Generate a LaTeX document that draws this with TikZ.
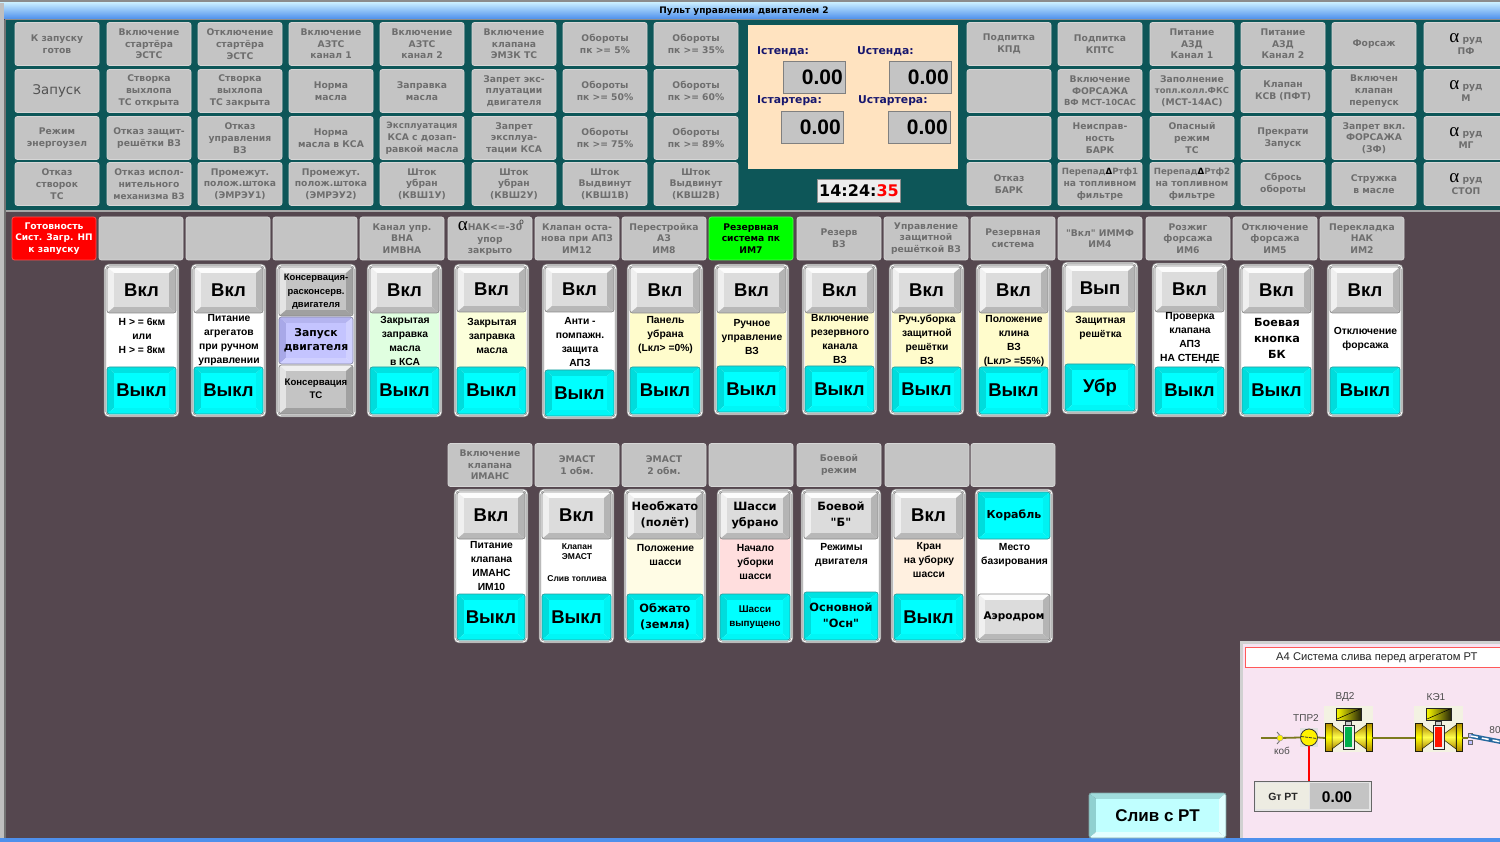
\documentclass[tikz,border=0pt]{standalone}
\usepackage{fontspec}
\setmainfont{Liberation Sans}
\newfontfamily\djf{DejaVu Sans}
\newfontfamily\serf{Liberation Serif}
\usetikzlibrary{calc}
\definecolor{bgd}{HTML}{55474F}
\definecolor{teal1}{HTML}{0D5658}
\definecolor{lampc}{HTML}{C4C4C4}
\definecolor{lampe}{HTML}{D6D6D6}
\definecolor{lampt}{HTML}{6E6E6E}
\definecolor{navyt}{HTML}{16166E}
\definecolor{peach}{HTML}{FFE3C0}
\definecolor{pinkp}{HTML}{F8E4F2}
\definecolor{olive}{HTML}{7C7A1E}
\definecolor{tbT}{HTML}{C4EAFF}
\definecolor{tbB}{HTML}{4E90EC}
\definecolor{gold}{HTML}{B08A00}
% bevel kinds
\definecolor{grT}{HTML}{FCFCFC}\definecolor{grL}{HTML}{F0F0F0}\definecolor{grR}{HTML}{B4B4B4}\definecolor{grB}{HTML}{B8B8B8}\definecolor{grF}{HTML}{DCDCDC}\definecolor{grE}{HTML}{8C8C8C}
\definecolor{cyT}{HTML}{00E2E2}\definecolor{cyL}{HTML}{00DCDC}\definecolor{cyR}{HTML}{00F2F2}\definecolor{cyB}{HTML}{00F6F6}\definecolor{cyF}{HTML}{00FFFF}\definecolor{cyE}{HTML}{2E9C9C}
\definecolor{lvT}{HTML}{B4B4F0}\definecolor{lvL}{HTML}{A8A8E8}\definecolor{lvR}{HTML}{D0D0FF}\definecolor{lvB}{HTML}{D0D0FF}\definecolor{lvF}{HTML}{C4C4FF}\definecolor{lvE}{HTML}{8888A8}
\definecolor{gmT}{HTML}{EFEFEF}\definecolor{gmL}{HTML}{E4E4E4}\definecolor{gmR}{HTML}{A0A0A0}\definecolor{gmB}{HTML}{A0A0A0}\definecolor{gmF}{HTML}{C4C4C4}\definecolor{gmE}{HTML}{8C8C8C}
\definecolor{lcT}{HTML}{A0DCDC}\definecolor{lcL}{HTML}{90D0D0}\definecolor{lcR}{HTML}{E0FFFF}\definecolor{lcB}{HTML}{E4FFFF}\definecolor{lcF}{HTML}{C0FFFF}\definecolor{lcE}{HTML}{80A8A8}
\newcommand\fb[2]{\fontsize{#1}{#2}\selectfont}
\newcommand\ml[2]{{#1\begin{tabular}{@{}c@{}}#2\end{tabular}}}
\renewcommand\arraystretch{1}
\newcommand\alf{{\serf\mdseries\fb{19}{12}\color{black}α}}
\newcommand\VK{\fb{18.5}{22}\bfseries Вкл}
\newcommand\VY{\fb{18.5}{22}\bfseries Выкл}
\newcommand\bevel[7]{%
  \pgfmathsetmacro\bxa{#2+7}\pgfmathsetmacro\bxb{#4-7}%
  \pgfmathsetmacro\bya{#3+6}\pgfmathsetmacro\byb{#5-6}%
  \pgfmathsetmacro\bcx{(#2+#4)/2}\pgfmathsetmacro\bcy{(#3+#5)/2}%
  \begin{scope}
  \clip[rounded corners=2.5] (#2,#3) rectangle (#4,#5);
  \fill[#6T] (#2,#3)--(#4,#3)--(\bxb,\bya)--(\bxa,\bya)--cycle;
  \fill[#6L] (#2,#3)--(\bxa,\bya)--(\bxa,\byb)--(#2,#5)--cycle;
  \fill[#6R] (#4,#3)--(\bxb,\bya)--(\bxb,\byb)--(#4,#5)--cycle;
  \fill[#6B] (#2,#5)--(\bxa,\byb)--(\bxb,\byb)--(#4,#5)--cycle;
  \fill[#6F] (\bxa,\bya) rectangle (\bxb,\byb);
  \end{scope}
  \draw[#6E,line width=.7,rounded corners=2.5] (#2,#3) rectangle (#4,#5);
  \node[inner sep=0,align=center,text=black] (#1) at (\bcx,\bcy) {#7};
}
\newcommand\pnl[7]{\def\PID{#1}\def\PL{#2}\def\PR{#3}\def\PT{#4}\def\PB{#5}\def\PTY{#6}\def\PBY{#7}\pnlb}
\newcommand\pnlb[7]{%
  \pgfmathsetmacro\PXA{\PL+2}\pgfmathsetmacro\PXB{\PR-2}\pgfmathsetmacro\PCX{(\PL+\PR)/2+.5}%
  \draw[frameg,line width=2.4,fill=white,rounded corners=4] (\PL,\PT) rectangle (\PR,\PB);
  \draw[white,line width=.9,rounded corners=4] (\PL,\PT) rectangle (\PR,\PB);
  \fill[#1] (\PXA,\PTY-2) rectangle (\PXB,\PBY+2);
  \bevel{\PID t}{\PXA}{\PT+2}{\PXB}{\PTY}{#3}{#4}
  \bevel{\PID b}{\PXA}{\PBY}{\PXB}{\PB-2}{#6}{#7}
  \node[inner sep=0,align=center,text=black,font=\bfseries\fb{10.3}{14}] (\PID m) at (\PCX,#2) {#5};
}
\tikzset{
  lamptext/.style={text=lampt,font=\djf\bfseries\fb{9.2}{11.7},align=center},
  lampbox/.style={draw=lampe,line width=.8,rounded corners=2.5,fill=lampc,inner sep=0,minimum width=84pt,minimum height=43pt,lamptext},
  readout/.style={draw=gray,line width=.9,fill=lampc,inner sep=0,minimum width=62pt,minimum height=32pt},
  readval/.style={inner sep=0,text=black,font=\bfseries\fb{21}{22}},
  navytext/.style={inner sep=0,anchor=west,text=navyt,font=\djf\bfseries\fb{10.8}{13}},
  schem/.style={inner sep=0,text=black!70,font=\fb{10}{12}},
  pipe/.style={olive,line width=1.8},
}
\colorlet{frameg}{black!42}
\newcommand\lamp[4][lampc]{\node[lampbox,fill=#1] (#2) at (#3) {#4};}
\newcommand\valve[3]{% id, x0, inner colour
  \begin{scope}[shift={(#2,0)}]
  \fill[black!6!yellow!8!white!90!gray] (0,706) rectangle (49,752);
  \shade[top color=gold,bottom color=gold,middle color=yellow,draw=black!75!olive,line width=.6] (1,723)--(8,723)--(8,751)--(1,751)--cycle;
  \shade[top color=gold,bottom color=gold,middle color=yellow,draw=black!75!olive,line width=.6] (42,723)--(48,723)--(48,751)--(42,751)--cycle;
  \shade[top color=gold,bottom color=gold,middle color=yellow!70!white,draw=black!75!olive,line width=.5] (8,725)--(20,734)--(20,740)--(8,749)--cycle;
  \shade[top color=gold,bottom color=gold,middle color=yellow!70!white,draw=black!75!olive,line width=.5] (42,725)--(30,734)--(30,740)--(42,749)--cycle;
  \fill[black!20] (21,721) rectangle (27,725);
  \draw[black!80,line width=.7] (21,721) rectangle (27,725);
  \fill[white!85!gray,draw=black!85,line width=1] (19,725) rectangle (30,749);
  \fill[#3] (21,727) rectangle (28,747);
  \shade[left color=yellow,right color=black!70!olive,draw=black!85,line width=1] (12,708) rectangle (37,720);
  \draw[black,line width=.5] (13,719)--(36,709);
  \end{scope}
  \coordinate (#1l) at (#2+1,738);
  \coordinate (#1r) at (#2+48,738);
}
\begin{document}
\begin{tikzpicture}[x=1pt,y=-1pt]
\clip (0,0) rectangle (1500,842);
\fill[bgd] (0,0) rectangle (1500,842);
% window chrome
\fill[black!45] (0,0) rectangle (1500,3);
\shade[top color=tbT,bottom color=tbB] (0,3) rectangle (1500,19);
\fill[teal1] (5,20) rectangle (1500,210);
\draw[black!45,line width=1] (5,20)--(1500,20);
\draw[black!35,line width=1.6] (5,211)--(1500,211);
\fill[black!25] (0,3) rectangle (4,842);
\fill[black!55] (4,20) rectangle (5.5,842);
\fill[tbB] (0,838) rectangle (1500,842);
\node[inner sep=0,text=black,font=\djf\bfseries\fb{9}{11}] (title) at (744,11.5) {Пульт управления двигателем 2};
% top left grid
\lamp{a11}{57,44}{К запуску\\готов}
\lamp{a12}{149,44}{Включение\\стартёра\\ЭСТС}
\lamp{a13}{240,44}{Отключение\\стартёра\\ЭСТС}
\lamp{a14}{331,44}{Включение\\АЗТС\\канал 1}
\lamp{a15}{422,44}{Включение\\АЗТС\\канал 2}
\lamp{a16}{514,44}{Включение\\клапана\\ЭМЗК ТС}
\lamp{a17}{605,44}{Обороты\\пк >= 5\%}
\lamp{a18}{696,44}{Обороты\\пк >= 35\%}
\lamp{a21}{57,91}{{\mdseries\fb{13.3}{15}\color{black!68}Запуск}}
\lamp{a22}{149,91}{Створка\\выхлопа\\ТС открыта}
\lamp{a23}{240,91}{Створка\\выхлопа\\ТС закрыта}
\lamp{a24}{331,91}{Норма\\масла}
\lamp{a25}{422,91}{Заправка\\масла}
\lamp{a26}{514,91}{Запрет экс-\\плуатации\\двигателя}
\lamp{a27}{605,91}{Обороты\\пк >= 50\%}
\lamp{a28}{696,91}{Обороты\\пк >= 60\%}
\lamp{a31}{57,138}{Режим\\энергоузел}
\lamp{a32}{149,138}{Отказ защит-\\решётки ВЗ}
\lamp{a33}{240,138}{Отказ\\управления\\ВЗ}
\lamp{a34}{331,138}{Норма\\масла в КСА}
\lamp{a35}{422,138}{{\fb{8.8}{11.7}Эксплуатация}\\КСА с дозап-\\равкой масла}
\lamp{a36}{514,138}{Запрет\\эксплуа-\\тации КСА}
\lamp{a37}{605,138}{Обороты\\пк >= 75\%}
\lamp{a38}{696,138}{Обороты\\пк >= 89\%}
\lamp{a41}{57,184}{Отказ\\створок\\ТС}
\lamp{a42}{149,184}{Отказ испол-\\нительного\\{\fb{8.8}{11.7}механизма ВЗ}}
\lamp{a43}{240,184}{Промежут.\\полож.штока\\(ЭМРЭУ1)}
\lamp{a44}{331,184}{Промежут.\\полож.штока\\(ЭМРЭУ2)}
\lamp{a45}{422,184}{Шток\\убран\\(КВШ1У)}
\lamp{a46}{514,184}{Шток\\убран\\(КВШ2У)}
\lamp{a47}{605,184}{Шток\\Выдвинут\\(КВШ1В)}
\lamp{a48}{696,184}{Шток\\Выдвинут\\(КВШ2В)}
% readouts
\fill[peach] (748,25) rectangle (958,169);
\node[navytext] (li1) at (757,51.5) {Iстенда:};
\node[navytext] (lu1) at (857,51.5) {Uстенда:};
\node[navytext] (li2) at (757,100.5) {Iстартера:};
\node[navytext] (lu2) at (858,100.5) {Uстартера:};
\node[readout] (f1) at (814,77) {};
\node[readout] (f2) at (920,77) {};
\node[readout] (f3) at (812,127) {};
\node[readout] (f4) at (919,127) {};
\node[readval,anchor=east] (v1) at ($(f1.east)+(-2.5,.5)$) {0.00};
\node[readval,anchor=east] (v2) at ($(f2.east)+(-2.5,.5)$) {0.00};
\node[readval,anchor=east] (v3) at ($(f3.east)+(-2.5,.5)$) {0.00};
\node[readval,anchor=east] (v4) at ($(f4.east)+(-2.5,.5)$) {0.00};
\node[draw=black!45,line width=1.2,fill=black!7,inner sep=0,minimum width=83pt,minimum height=23pt,text=black,font=\djf\bfseries\fb{16}{18}] (clock) at (859,191) {14:24:{\color{red}35}};
% top right grid
\lamp{b11}{1009,44}{Подпитка\\КПД}
\lamp{b12}{1100,44}{Подпитка\\КПТС}
\lamp{b13}{1192,44}{Питание\\АЗД\\Канал 1}
\lamp{b14}{1283,44}{Питание\\АЗД\\Канал 2}
\lamp{b15}{1374,44}{Форсаж}
\lamp{b16}{1466,44}{\alf{} руд\\ПФ}
\lamp{b21}{1009,91}{}
\lamp{b22}{1100,91}{Включение\\ФОРСАЖА\\{\fb{8.4}{11.7}ВФ МСТ-10САС}}
\lamp{b23}{1192,91}{Заполнение\\{\fb{8.4}{11.7}топл.колл.ФКС}\\(МСТ-14АС)}
\lamp{b24}{1283,91}{Клапан\\КСВ (ПФТ)}
\lamp{b25}{1374,91}{Включен\\клапан\\перепуск}
\lamp{b26}{1466,91}{\alf{} руд\\М}
\lamp{b31}{1009,138}{}
\lamp{b32}{1100,138}{Неисправ-\\ность\\БАРК}
\lamp{b33}{1192,138}{Опасный\\режим\\ТС}
\lamp{b34}{1283,138}{Прекрати\\Запуск}
\lamp{b35}{1374,138}{Запрет вкл.\\ФОРСАЖА\\(ЗФ)}
\lamp{b36}{1466,138}{\alf{} руд\\МГ}
\lamp{b41}{1009,184}{Отказ\\БАРК}
\lamp{b42}{1100,184}{{\fb{8.6}{11.7}Перепад{\color{black}Δ}Ртф1}\\на топливном\\фильтре}
\lamp{b43}{1192,184}{{\fb{8.6}{11.7}Перепад{\color{black}Δ}Ртф2}\\на топливном\\фильтре}
\lamp{b44}{1283,184}{Сбрось\\обороты}
\lamp{b45}{1374,184}{Стружка\\в масле}
\lamp{b46}{1466,184}{\alf{} руд\\СТОП}
% header row 1
\node[lampbox,fill=red,draw=red!70!white,text=white] (h01) at (54,238.5) {Готовность\\{\fb{9}{11.7}Сист. Загр. НП}\\к запуску};
\lamp{h02}{141,238.5}{}
\lamp{h03}{228,238.5}{}
\lamp{h04}{315,238.5}{}
\lamp{h05}{402,238.5}{Канал упр.\\ВНА\\ИМВНА}
\lamp{h06}{490,238.5}{\alf{}НАК<=-30\\упор\\закрыто}
\lamp{h07}{577,238.5}{Клапан оста-\\нова при АПЗ\\ИМ12}
\lamp{h08}{664,238.5}{Перестройка\\АЗ\\ИМ8}
\node[lampbox,fill=green,draw=green!70!white,text=black] (h09) at (751,238.5) {Резервная\\система пк\\ИМ7};
\lamp{h10}{839,238.5}{Резерв\\ВЗ}
\lamp{h11}{926,238.5}{Управление\\защитной\\решёткой ВЗ}
\lamp{h12}{1013,238.5}{Резервная\\система}
\lamp{h13}{1100,238.5}{"Вкл" ИММФ\\ИМ4}
\lamp{h14}{1188,238.5}{Розжиг\\форсажа\\ИМ6}
\lamp{h15}{1275,238.5}{Отключение\\форсажа\\ИМ5}
\lamp{h16}{1362,238.5}{Перекладка\\НАК\\ИМ2}
\node[inner sep=0,text=black!80,font=\fb{8}{8}] (deg) at (521.5,222) {o};
% panels row 1
\pnl{p1}{105}{178}{265}{416}{313}{367}{white}{336}{gr}{\VK}{Н > = 6км\\или\\Н > = 8км}{cy}{\VY}
\pnl{p2}{192}{265}{265}{416}{313}{367}{white}{340}{gr}{\VK}{Питание\\агрегатов\\при ручном\\управлении}{cy}{\VY}
% panel 3: three buttons
\draw[frameg,line width=2.4,fill=white,rounded corners=4] (277,265) rectangle (355,416);
\draw[white,line width=.9,rounded corners=4] (277,265) rectangle (355,416);
\bevel{p3a}{279}{267}{353}{316}{gm}{\ml{\bfseries\fb{9.4}{13.5}}{Консервация-\\расконсерв.\\двигателя}}
\bevel{p3b}{279}{317}{353}{364}{lv}{\ml{\djf\bfseries\fb{10.8}{14.5}}{Запуск\\двигателя}}
\bevel{p3c}{279}{365}{353}{414}{gm}{\ml{\bfseries\fb{9.6}{13.5}}{Консервация\\ТС}}
\pnl{p4}{368}{441}{265}{416}{313}{367}{green!12!white}{341}{gr}{\VK}{Закрытая\\заправка\\масла\\в КСА}{cy}{\VY}
\pnl{p5}{455}{528}{265}{416}{312}{367}{green!8!yellow!14!white}{336}{gr}{\VK}{Закрытая\\заправка\\масла}{cy}{\VY}
\pnl{p6}{543}{616}{265}{418}{312}{370}{white}{342}{gr}{\VK}{Анти -\\помпажн.\\защита\\АПЗ}{cy}{\VY}
\pnl{p7}{628}{702}{265}{416}{313}{367}{yellow!20!white}{335}{gr}{\VK}{Панель\\убрана\\(Lкл> =0\%)}{cy}{\VY}
\pnl{p8}{715}{788}{265}{414}{313}{366}{yellow!20!white}{337}{gr}{\VK}{Ручное\\управление\\ВЗ}{cy}{\VY}
\pnl{p9}{803}{876}{265}{414}{313}{366}{yellow!20!white}{339}{gr}{\VK}{Включение\\резервного\\канала\\ВЗ}{cy}{\VY}
\pnl{p10}{890}{963}{265}{414}{313}{367}{yellow!20!white}{340}{gr}{\VK}{Руч.уборка\\защитной\\решётки\\ВЗ}{cy}{\VY}
\pnl{p11}{977}{1050}{265}{416}{313}{367}{yellow!20!white}{341}{gr}{\VK}{Положение\\клина\\ВЗ\\(Lкл> =55\%)}{cy}{\VY}
\pnl{p12}{1063}{1137}{263}{413}{312}{364}{yellow!20!white}{328}{gr}{\fb{18.5}{22}\bfseries Вып}{Защитная\\решётка}{cy}{\fb{18.5}{22}\bfseries Убр}
\pnl{p13}{1153}{1226}{264}{416}{312}{367}{white}{338}{gr}{\VK}{Проверка\\клапана\\АПЗ\\НА СТЕНДЕ}{cy}{\VY}
\pnl{p14}{1240}{1313}{265}{416}{313}{367}{white}{339}{gr}{\VK}{\ml{\djf\bfseries\fb{11.2}{16}}{Боевая\\кнопка\\БК}}{cy}{\VY}
\pnl{p15}{1328}{1402}{265}{416}{313}{367}{white}{339}{gr}{\VK}{Отключение\\форсажа}{cy}{\VY}
% header row 2
\lamp{k1}{490,465}{Включение\\клапана\\ИМАНС}
\lamp{k2}{577,465}{ЭМАСТ\\1 обм.}
\lamp{k3}{664,465}{ЭМАСТ\\2 обм.}
\lamp{k4}{751,465}{}
\lamp{k5}{839,465}{Боевой\\режим}
\lamp{k6}{927,465}{}
\lamp{k7}{1013,465}{}
% panels row 2
\pnl{q1}{455}{527}{490}{642}{539}{594}{white}{566}{gr}{\VK}{Питание\\клапана\\ИМАНС\\ИМ10}{cy}{\VY}
\pnl{q2}{540}{613}{490}{642}{539}{594}{white}{563}{gr}{\VK}{\ml{\bfseries\fb{8.5}{10.5}}{Клапан\\ЭМАСТ\\[11pt]Слив топлива}}{cy}{\VY}
\pnl{q3}{625}{705}{490}{642}{539}{594}{red!12!yellow!10!white}{555}{gr}{\ml{\djf\bfseries\fb{11.4}{16}}{Необжато\\(полёт)}}{Положение\\шасси}{cy}{\ml{\djf\bfseries\fb{11.4}{16}}{Обжато\\(земля)}}
\pnl{q4}{718}{792}{490}{642}{539}{594}{red!13!white}{562}{gr}{\ml{\djf\bfseries\fb{11.4}{16}}{Шасси\\убрано}}{Начало\\уборки\\шасси}{cy}{\ml{\bfseries\fb{9.8}{14}}{Шасси\\выпущено}}
\pnl{q5}{802}{880}{490}{642}{539}{592}{white}{555}{gr}{\ml{\djf\bfseries\fb{11.4}{16}}{Боевой\\"Б"}}{Режимы\\двигателя}{cy}{\ml{\djf\bfseries\fb{11.4}{16}}{Основной\\"Осн"}}
\pnl{q6}{892}{965}{490}{642}{539}{594}{orange!12!white}{560}{gr}{\VK}{Кран\\на уборку\\шасси}{cy}{\VY}
\pnl{q7}{976}{1052}{490}{642}{539}{594}{white}{555}{cy}{\djf\bfseries\fb{11}{14}Корабль}{Место\\базирования}{gr}{\djf\bfseries\fb{10.5}{14}Аэродром}
% drain button
\bevel{sliv}{1089}{793}{1226}{838}{lc}{\bfseries\fb{17}{20}Слив с РТ}
% scheme panel
\fill[black!18] (1240,641) rectangle (1500,838);
\fill[pinkp] (1243,644) rectangle (1500,838);
\node[draw=red!65!white,line width=.9,fill=white,inner sep=0,minimum width=265pt,minimum height=20pt,anchor=north west] (sh) at (1245,647) {};
\node[inner sep=0,anchor=west,text=black!85,font=\fb{11.2}{13}] (shtitle) at (1276,657.5) {А4 Система слива перед агрегатом РТ};
\node[schem] (lvd) at (1345,697) {ВД2};
\node[schem] (lke) at (1436,697) {КЭ1};
\node[schem] (ltp) at (1306,718) {ТПР2};
\node[schem] (l80) at (1495,730) {80};
\coordinate (pipestart) at (1261,738);
\fill[black!12] (1300,728) rectangle (1318,747);
\node[circle,draw=black!80,line width=.8,fill=yellow,minimum size=17pt,inner sep=0] (tpr) at (1309,737.5) {};
\draw[black!80,line width=.8,dash pattern=on 3pt off 1pt] (1301,736.5)--(1317,738.5);
\node[draw=black!60,line width=.9,fill=black!10,minimum width=117pt,minimum height=30pt,inner sep=0] (gt) at (1312.5,796) {};
\fill[black!14!yellow!6!white!85!gray] (1256,783) rectangle (1309,809);
\fill[lampc] (1310,783) rectangle (1369,809);
\node[inner sep=0,text=black!85,font=\bfseries\fb{10.5}{12}] (gtl) at (1283,797) {Gт РТ};
\node[inner sep=0,text=black,font=\bfseries\fb{15.5}{18}] (gtv) at (1337,797) {0.00};
\draw[red,line width=1.1] (tpr.south) -- (tpr.south |- gt.north);
\valve{vd}{1324}{green!55!black!70!cyan}
\valve{ke}{1414}{red!85!orange}
\coordinate (kvp) at (1280,738);
\coordinate (coupl) at (1468,738);
\draw[pipe] (pipestart) -- (kvp);
\draw[pipe] (kvp) -- (tpr.west);
\draw[pipe] (tpr.east) -- (vdl);
\draw[pipe] (vdr) -- (kel);
\draw[pipe] (ker) -- (coupl);
% check valve
\draw[black!55,line width=.9] (1277,732)--(1282,738)--(1277,744);
\node[circle,fill=yellow,draw=black!40,line width=.4,minimum size=6pt,inner sep=0] (kv) at (kvp) {};
\node[schem] (lkv) at (1282,751) {коб};
% outlet
\draw[black!60,line width=.7,fill=blue!25!white] (1468,733) rectangle (1472,737);
\draw[black!60,line width=.7,fill=blue!25!white] (1468,740) rectangle (1472,744);
\coordinate (outa) at (1471,736);
\coordinate (outb) at (1502,742);
\draw[blue!45!cyan!55!black!85!white,line width=4.5] (outa) -- (outb);
\draw[white,line width=1.5,dash pattern=on 7pt off 4pt] (outa) -- (outb);
\end{tikzpicture}
\end{document}
